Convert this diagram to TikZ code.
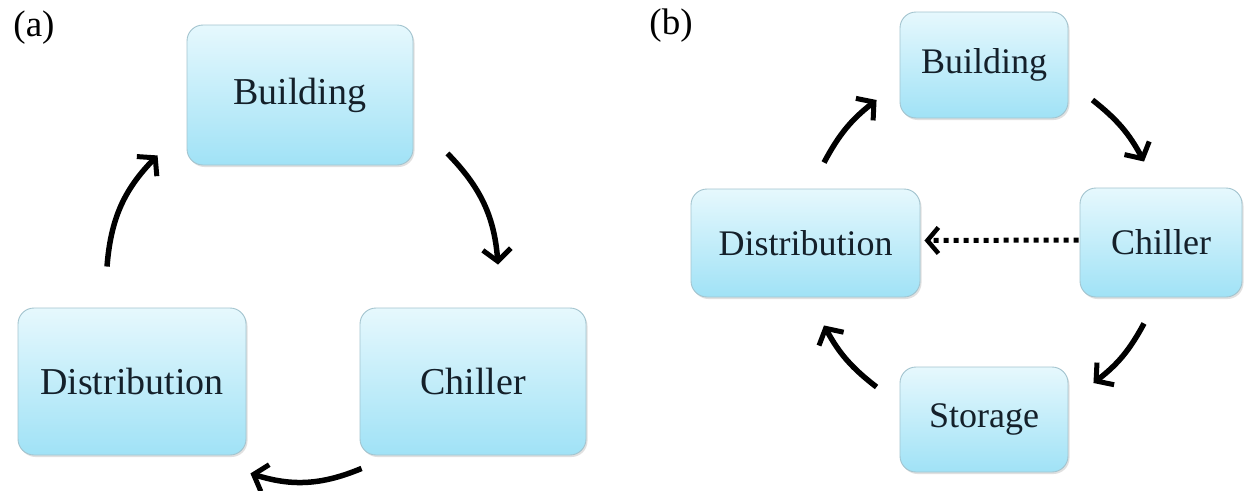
\documentclass[tikz,border=0pt]{standalone}
\usepackage{fontspec}
\setmainfont{Liberation Serif}
\usetikzlibrary{arrows.meta,shadows,calc}
\definecolor{boxtop}{HTML}{E6F8FD}
\definecolor{boxbot}{HTML}{A0E2F6}
\definecolor{boxline}{HTML}{A3C4CF}
\definecolor{txt}{HTML}{14202A}
\tikzset{
  box/.style={rectangle, rounded corners=16pt, draw=boxline, line width=0.9pt,
    top color=boxtop, bottom color=boxbot, text=txt, inner sep=0pt,
    drop shadow={shadow xshift=1.5pt, shadow yshift=-2pt, opacity=0.2, fill=black!60}},
  boxa/.style={box, font=\fontsize{38}{40}\selectfont},
  boxb/.style={box, font=\fontsize{36}{38}\selectfont},
  flow/.style={line width=5.5pt, draw=black, -{Straight Barb[length=12pt,width=28pt,line width=5pt]}},
  dotflow/.style={line width=5pt, draw=black, dash pattern=on 5pt off 5pt,
    -{Straight Barb[length=11pt,width=26pt,line width=4.5pt]}},
  tag/.style={font=\fontsize{37}{40}\selectfont, text=black, inner sep=0pt}
}
\begin{document}
\begin{tikzpicture}[x=1pt,y=1pt]
\useasboundingbox[fill=white] (0,0) rectangle (1246,-490);
% labels
\node[tag] (la) at (34,-28) {(a)};
\node[tag] (lb) at (671,-26) {(b)};
% (a)
\node[boxa, minimum width=226pt, minimum height=140pt] (aB) at (300,-95) {Building};
\node[boxa, minimum width=228pt, minimum height=147pt] (aD) at (132,-381.5) {Distribution};
\node[boxa, minimum width=226pt, minimum height=147pt] (aC) at (473,-381.5) {Chiller};
\draw[flow] ([shift={(34,12)}]aB.south east) to[bend left=20] ([shift={(25,43)}]aC.north);
\draw[flow] ([shift={(2,-13)}]aC.south west) to[bend left=20] ([shift={(4,-18)}]aD.south east);
\draw[flow] ([shift={(-25,41)}]aD.north) to[bend left=20] ([shift={(-29,10)}]aB.south west);
% (b)
\node[boxb, minimum width=168pt, minimum height=106pt] (bB) at (984,-65) {Building};
\node[boxb, minimum width=229pt, minimum height=108pt] (bD) at (805.5,-243) {Distribution};
\node[boxb, minimum width=162pt, minimum height=109pt] (bC) at (1161,-242.5) {Chiller};
\node[boxb, minimum width=168pt, minimum height=105pt] (bS) at (984,-419.5) {Storage};
\draw[flow] ([shift={(18.5,26)}]bD.north) to[bend left=12] ([shift={(-23,-35)}]bB.west);
\draw[flow] ([shift={(24,-35)}]bB.east) to[bend left=12] ([shift={(-17,26)}]bC.north);
\draw[flow] ([shift={(-17,-26)}]bC.south) to[bend left=12] ([shift={(25,36.5)}]bS.east);
\draw[flow] ([shift={(-23,32.5)}]bS.west) to[bend left=12] ([shift={(18.5,-28)}]bD.south);
\draw[dotflow] ([shift={(-1,2.5)}]bC.west) -- ([shift={(4,2.5)}]bD.east);
\end{tikzpicture}
\end{document}
